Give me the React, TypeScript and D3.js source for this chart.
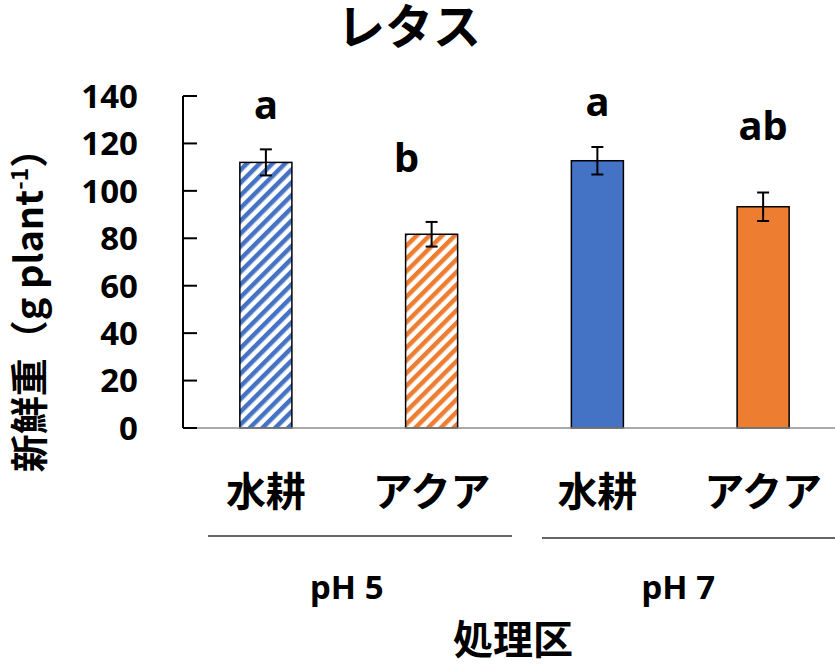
import React from "react";
import * as d3 from "d3";

// Treatment groups along the x axis
const categories = ["水耕", "アクア", "水耕", "アクア"];
const groups = ["pH 5", "pH 7"];
const groupOf = [0, 0, 1, 1];

// Fresh weight (g plant-1), mean and error
const means = [112.0, 81.7, 112.7, 93.3];
const errors = [5.5, 5.2, 5.8, 6.0];

// Significance letters and the value at which each is anchored
const letters = ["a", "b", "a", "ab"];
const letterAt = [130.3, 108.0, 131.6, 121.5];
const letterShift = [0, -25, 0, 0];

const yTicks = [0, 20, 40, 60, 80, 100, 120, 140];

const blue = "#4472C4";
const orange = "#ED7D31";
const fills = ["url(#hatchBlue)", "url(#hatchOrange)", blue, orange];

const W = 835;
const H = 664;
const left = 183;
const right = 846;
const top = 96;
const bottom = 428;

const jp = "'Noto Sans CJK JP', 'Noto Sans', sans-serif";
const latin = "'Noto Sans', 'Open Sans', sans-serif";

export default function App() {
  const x = d3
    .scaleBand<number>()
    .domain(d3.range(categories.length))
    .range([left, right])
    .padding(0);
  const y = d3.scaleLinear().domain([0, 140]).range([bottom, top]);
  const barW = x.bandwidth() * 0.314;
  const cx = (i: number) => (x(i) as number) + x.bandwidth() / 2;

  const groupSpans = groups.map((g, gi) => {
    const idx = d3.range(categories.length).filter((i) => groupOf[i] === gi);
    return { g, c: (cx(idx[0]) + cx(idx[idx.length - 1])) / 2 };
  });

  return (
    <svg
      width={W}
      height={H}
      style={{ position: "absolute", left: 0, top: 0, background: "#fff" }}
    >
      <defs>
        <pattern
          id="hatchBlue"
          width={9}
          height={9}
          patternUnits="userSpaceOnUse"
          patternTransform="rotate(45)"
        >
          <rect width={9} height={9} fill="#fff" />
          <rect width={4.5} height={9} fill={blue} />
        </pattern>
        <pattern
          id="hatchOrange"
          width={9}
          height={9}
          patternUnits="userSpaceOnUse"
          patternTransform="rotate(45)"
        >
          <rect width={9} height={9} fill="#fff" />
          <rect width={4.5} height={9} fill={orange} />
        </pattern>
      </defs>

      {/* title */}
      <text
        x={409}
        y={44}
        textAnchor="middle"
        fontFamily={jp}
        fontWeight={700}
        fontSize={48}
        fill="#000"
      >
        レタス
      </text>

      {/* bars */}
      {means.map((m, i) => (
        <rect
          key={"b" + i}
          x={cx(i) - barW / 2}
          y={y(m)}
          width={barW}
          height={y(0) - y(m)}
          fill={fills[i]}
          stroke="#000"
          strokeWidth={1.5}
        />
      ))}

      {/* error bars */}
      {means.map((m, i) => (
        <g key={"e" + i} stroke="#000" strokeWidth={2}>
          <line x1={cx(i)} x2={cx(i)} y1={y(m + errors[i])} y2={y(m - errors[i])} />
          <line x1={cx(i) - 6} x2={cx(i) + 6} y1={y(m + errors[i])} y2={y(m + errors[i])} />
          <line x1={cx(i) - 6} x2={cx(i) + 6} y1={y(m - errors[i])} y2={y(m - errors[i])} />
        </g>
      ))}

      {/* significance letters */}
      {letters.map((l, i) => (
        <text
          key={"l" + i}
          x={cx(i) + letterShift[i]}
          y={y(letterAt[i])}
          textAnchor="middle"
          fontFamily={latin}
          fontWeight={700}
          fontSize={40}
          fill="#000"
        >
          {l}
        </text>
      ))}

      {/* x axis line */}
      <line x1={left} x2={W} y1={bottom} y2={bottom} stroke="#8c8c8c" strokeWidth={1.5} />

      {/* y axis */}
      <line x1={left} x2={left} y1={top} y2={bottom} stroke="#000" strokeWidth={2} />
      {yTicks.map((t) => (
        <g key={"t" + t}>
          <line x1={left} x2={left + 14} y1={y(t)} y2={y(t)} stroke="#000" strokeWidth={2} />
          <text
            x={138}
            y={y(t)}
            dy="0.36em"
            textAnchor="end"
            fontFamily={latin}
            fontWeight={700}
            fontSize={33}
            fill="#000"
          >
            {t}
          </text>
        </g>
      ))}

      {/* category labels */}
      {categories.map((c, i) => (
        <text
          key={"c" + i}
          x={cx(i)}
          y={506}
          textAnchor="middle"
          fontFamily={jp}
          fontWeight={700}
          fontSize={40}
          fill="#000"
        >
          {c}
        </text>
      ))}

      {/* group separators and labels */}
      {groupSpans.map((s, gi) => (
        <g key={"g" + gi}>
          <line
            x1={gi === 0 ? 208 : 542}
            x2={gi === 0 ? 512 : W}
            y1={536 + gi * 2}
            y2={536 + gi * 2}
            stroke="#333"
            strokeWidth={1.5}
          />
          <text
            x={s.c - 2}
            y={599}
            textAnchor="middle"
            fontFamily={latin}
            fontWeight={700}
            fontSize={33}
            fill="#000"
          >
            {s.g}
          </text>
        </g>
      ))}

      {/* x axis title */}
      <text
        x={513}
        y={654}
        textAnchor="middle"
        fontFamily={jp}
        fontWeight={700}
        fontSize={40}
        fill="#000"
      >
        処理区
      </text>

      {/* y axis title */}
      <text
        transform="translate(43,301) rotate(-90)"
        textAnchor="middle"
        fontFamily={jp}
        fontWeight={700}
        fontSize={38}
        fill="#000"
      >
        新鮮重（g plant
        <tspan fontSize={23} dy={-15}>-1</tspan>
        <tspan dy={15}>）</tspan>
      </text>
    </svg>
  );
}
